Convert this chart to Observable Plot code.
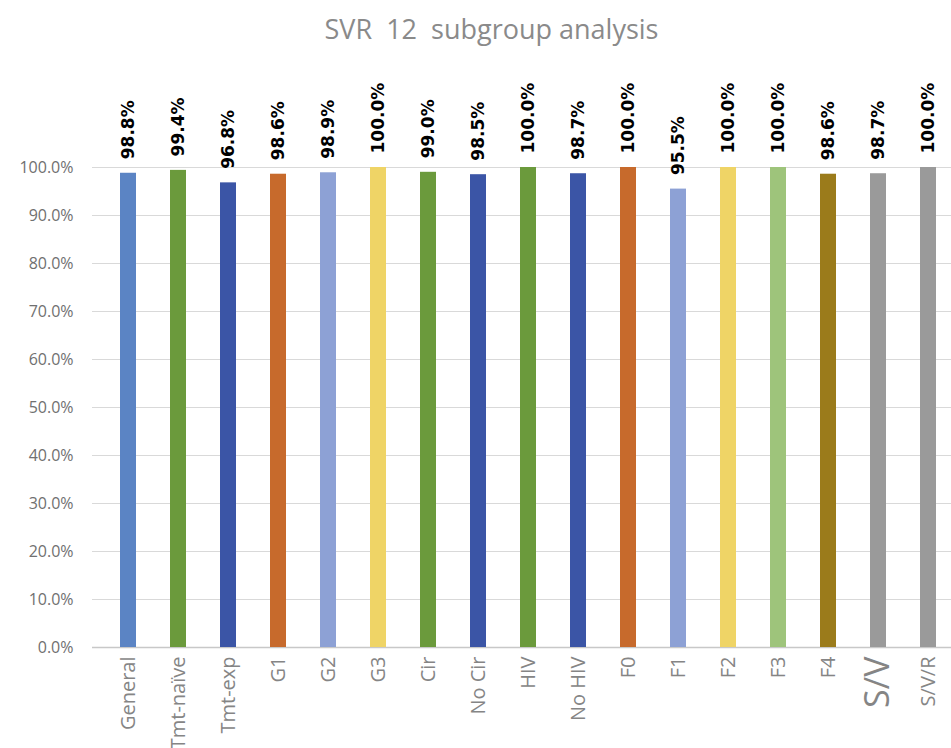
<!DOCTYPE html>
<html>
<head>
<meta charset="utf-8">
<script src="https://cdn.jsdelivr.net/npm/d3@7"></script>
<script src="https://cdn.jsdelivr.net/npm/@observablehq/plot@0.6"></script>
<style>
  body { margin: 0; background: #fff; width: 951px; height: 748px; overflow: hidden; }
  #title { height: 55px; line-height: 58px; text-align: center; font-family: "Open Sans", sans-serif; font-size: 27px; color: #8a8a8a; padding-left: 32px; white-space: pre; }
</style>
</head>
<body>
<div id="title">SVR  12  subgroup analysis</div>
<div id="chart"></div>
<script>
const categories = ["General","Tmt-naïve","Tmt-exp","G1","G2","G3","Cir","No Cir","HIV","No HIV","F0","F1","F2","F3","F4","S/V","S/V/R"];
const values = [98.8, 99.4, 96.8, 98.6, 98.9, 100.0, 99.0, 98.5, 100.0, 98.7, 100.0, 95.5, 100.0, 100.0, 98.6, 98.7, 100.0];
const colors = ["#5b84c4","#6b9a3c","#3b55a6","#c76a2c","#8da1d5","#efd466","#6b9a3c","#3b55a6","#6b9a3c","#3b55a6","#c76a2c","#8da1d5","#efd466","#9ec47b","#9b7b1b","#9a9a9a","#9a9a9a"];
const labelSizes = [20,20,20,20,20,20,20,20,20,20,20,20,20,20,20,34,20];
const yTicks = [0,10,20,30,40,50,60,70,80,90,100];

const data = categories.map((c, i) => ({cat: c, value: values[i], color: colors[i], size: labelSizes[i]}));

const chart = Plot.plot({
  width: 951,
  height: 693,
  marginTop: 112,
  marginBottom: 101,
  marginLeft: 92,
  marginRight: 0,
  x: {domain: categories, range: [112, 943], paddingInner: 0.69, paddingOuter: 0, axis: null},
  y: {domain: [0, 100], range: [592, 112], axis: null},
  style: {fontFamily: "Open Sans, sans-serif"},
  marks: [
    Plot.ruleY(yTicks.filter(t => t > 0), {stroke: "#d9d9d9", strokeWidth: 1.2}),
    Plot.ruleY([0], {stroke: "#c8c8c8", strokeWidth: 1.5}),
    Plot.text(yTicks, {frameAnchor: "left", y: d => d, text: d => d.toFixed(1) + "%", dx: -19, textAnchor: "end", fill: "#707070", fontSize: 16}),
    Plot.barY(data, {x: "cat", y: "value", fill: "color"}),
    Plot.text(data, {x: "cat", y: "value", text: d => d.value.toFixed(1) + "%", rotate: -90, textAnchor: "start", dy: -14, fill: "#000", fontSize: 17, fontWeight: "bold", fontFamily: "DejaVu Sans, sans-serif"}),
    Plot.text(data, {x: "cat", y: 0, text: "cat", rotate: -90, textAnchor: "end", dy: 9, fill: "#858585", fontSize: "size"})
  ]
});
document.getElementById("chart").appendChild(chart);
</script>
</body>
</html>
